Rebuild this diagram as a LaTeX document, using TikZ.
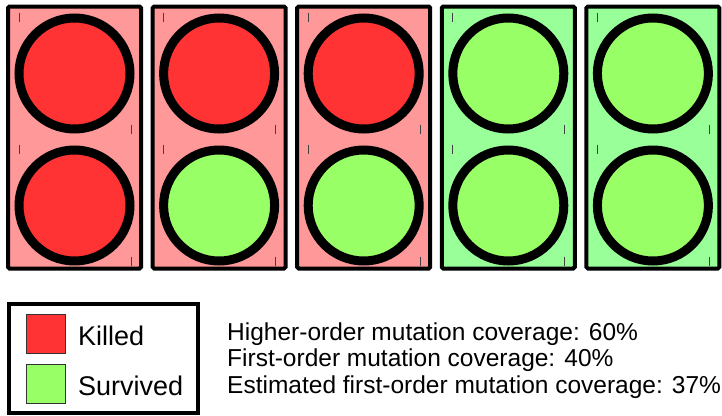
\documentclass[tikz,border=0pt]{standalone}
\usepackage{fontspec}
\setmainfont{Liberation Sans}
\usepackage{tikz}
\definecolor{killed}{HTML}{FF3333}
\definecolor{killedbg}{HTML}{FF9999}
\definecolor{survived}{HTML}{99FF66}
\definecolor{survivedbg}{HTML}{99FF99}

\begin{document}
\begin{tikzpicture}[x=1pt,y=-1pt,
 cell/.style={draw,line width=4pt,rounded corners=1.5pt,minimum width=133pt,minimum height=262pt,inner sep=0pt},
 dot/.style={draw,circle,line width=9pt,minimum size=111pt,inner sep=0pt},
 sw/.style={draw=black!80,line width=1pt,minimum size=39pt,inner sep=0pt},
 tk/.style={line width=1pt,black!75},
 big/.style={font=\fontsize{27}{30}\selectfont,inner sep=0pt},
 small/.style={font=\fontsize{24.5}{26.5}\selectfont,inner sep=0pt,align=left}]
\useasboundingbox (0,0) rectangle (722,415);
% one column per higher-order mutant: background, then its two first-order parts
\foreach \i/\bg/\up/\down in {0/killedbg/killed/killed,1/killedbg/killed/survived,
  2/killedbg/killed/survived,3/survivedbg/survived/survived,4/survivedbg/survived/survived}{
 \node[cell,fill=\bg] (c\i) at (74.5+144.6*\i,137.5) {};
 \node[dot,fill=\up] (t\i) at (74.5+144.6*\i,73.5) {};
 \node[dot,fill=\down] (b\i) at (74.5+144.6*\i,205.5) {};
 \foreach \d in {t,b}{
  \draw[tk] ([shift={(-55.5,-61)}]\d\i.center) -- ++(0,9);
  \draw[tk] ([shift={(56.5,51)}]\d\i.center) -- ++(0,9);
 }
}
% legend
\node[draw,line width=4pt,minimum width=189pt,minimum height=109pt,inner sep=0pt] (key) at (103.5,358.5) {};
\node[sw,fill=killed] (ks) at (46,334) {};
\node[sw,fill=survived] (ss) at (46,384) {};
\node[big,anchor=base west] (kl) at (78,345) {Killed};
\node[big,anchor=base west] (sl) at (78,395) {Survived};
% coverage figures (base = last line)
\node[small,anchor=base west] (cov) at (227,393)
 {Higher-order mutation coverage: 60\%\\
  First-order mutation coverage: 40\%\\
  Estimated first-order mutation coverage: 37\%};
\end{tikzpicture}
\end{document}
